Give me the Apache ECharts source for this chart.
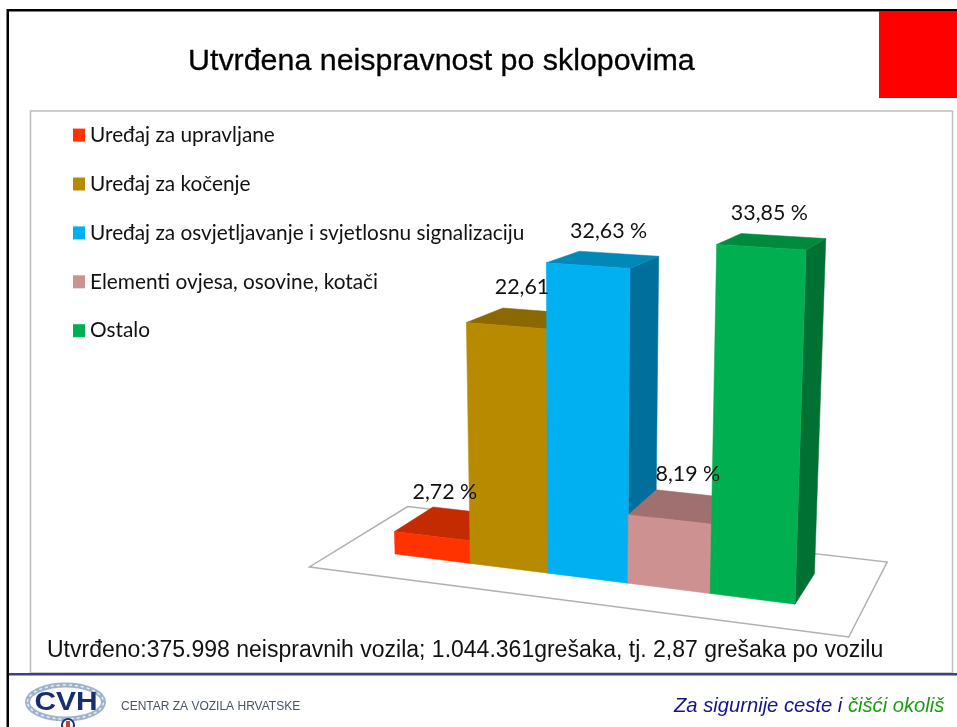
<!DOCTYPE html>
<html><head><meta charset="utf-8">
<style>html,body{margin:0;padding:0;background:#fff}#c{width:957px;height:727px}</style>
<script src="https://cdn.jsdelivr.net/npm/echarts@6/dist/echarts.min.js"></script>
</head><body><div id="c"></div>
<script>
const categories = ['Uređaj za upravljane','Uređaj za kočenje','Uređaj za osvjetljavanje i svjetlosnu signalizaciju','Elementi ovjesa, osovine, kotači','Ostalo'];
// Heights as drawn in the picture; the printed labels are separate text in the source and do not scale exactly with the bars.
const barHeights = [2.4, 24.7, 31.1, 7.0, 33.85];
const valueLabels = ['2,72 %','22,61','32,63 %','8,19 %','33,85 %'];
const frontColors = ['#FF3300','#B88A00','#00B0F0','#CE9191','#00B050'];
const topColors = ['#C42B00','#8C6900','#0088B8','#A07070','#008A3E'];
const sideColors = ['#A32400','#705400','#006F9C','#805858','#007033'];
const labelNudge = [[-6,-31],[-2,-31],[5,-28],[5,-32],[-3,-28]];
const titleText = 'Utvrđena neispravnost po sklopovima';
const footText = 'Utvrđeno:375.998 neispravnih vozila; 1.044.361grešaka, tj. 2,87 grešaka po vozilu';
const orgText = 'CENTAR ZA VOZILA HRVATSKE';

const yMax = 40;
// Perspective camera: vanishing points for category, value and depth directions.
const O = [395,554], Vu = [-4757,-92], Vv = [583,7400], Vd = [1150,50];
const wu = -0.01441, wv = -0.001358, wd = 0.0537;
function project(u,v,d){
  const W = 1 + u*wu + v*wv + d*wd;
  return [
    (O[0] + u*wu*Vu[0] + v*wv*Vv[0] + d*wd*Vd[0]) / W,
    (O[1] + u*wu*Vu[1] + v*wv*Vv[1] + d*wd*Vd[1]) / W
  ];
}
function renderBar(i){
  return function(params, api){
    const cs = params.coordSys;
    const p = api.coord([api.value(0), api.value(1)]);
    const band = api.size([1,0])[0];
    const u0 = (p[0]-band/2-cs.x)/band, u1 = u0+1;
    const v = (cs.y+cs.height-p[1])/cs.height*yMax;
    const poly = (pts,fill)=>({type:'polygon',shape:{points:pts},style:{fill:fill,stroke:fill,lineWidth:0.5}});
    const a=project(u0,v,0), b=project(u1,v,0), c=project(u1,v,1), d=project(u0,v,1);
    const e=project(u0,0,0), f=project(u1,0,0), g=project(u1,0,1);
    const mid=project(u0+0.5,v,0.5);
    return {type:'group',children:[
      poly([b,c,g,f],sideColors[i]),
      poly([a,b,c,d],topColors[i]),
      poly([a,b,f,e],frontColors[i]),
      {type:'text',z2:100,style:{text:valueLabels[i],x:mid[0]+labelNudge[i][0],y:mid[1]+labelNudge[i][1],
        align:'center',verticalAlign:'middle',fill:'#111',font:'21.4px Lato'}}
    ]};
  };
}
const floorU=[-0.73,5.76], floorD=[-0.715,1.68];
const series=[{
  type:'custom',name:'floor',silent:true,coordinateSystem:'cartesian2d',clip:false,
  data:[[0,0]],encode:{x:0,y:1},
  renderItem(){return {type:'polygon',shape:{points:[
    project(floorU[0],0,floorD[0]),project(floorU[1],0,floorD[0]),
    project(floorU[1],0,floorD[1]),project(floorU[0],0,floorD[1])]},
    style:{fill:'#fff',stroke:'#b0b0b0',lineWidth:1.5}};}
}];
categories.forEach((name,i)=>series.push({
  type:'custom',name,coordinateSystem:'cartesian2d',clip:false,
  itemStyle:{color:frontColors[i]},
  data:[[i,barHeights[i]]],encode:{x:0,y:1},renderItem:renderBar(i)
}));

const chart=echarts.init(document.getElementById('c'),null,{renderer:'canvas'});
chart.setOption({
  animation:false,backgroundColor:'#fff',
  title:{text:titleText,left:183,top:42,textStyle:{fontFamily:'Liberation Sans',fontWeight:'normal',fontSize:30.4,color:'#000',textBorderColor:'#000',textBorderWidth:0.3}},
  legend:{data:categories,orient:'vertical',left:68,top:119.6,itemWidth:12,itemHeight:13,itemGap:27.9,icon:'rect',
    selectedMode:false,textStyle:{fontFamily:'Lato',fontSize:20.8,color:'#111'},itemStyle:{borderWidth:0}},
  grid:{left:395,top:200,width:400,height:354,containLabel:false},
  xAxis:{type:'category',data:categories,show:false},
  yAxis:{type:'value',min:0,max:yMax,show:false},
  series,
  graphic:[
    {type:'rect',z:-10,shape:{x:30.5,y:111,width:922,height:562},style:{fill:'#fff',stroke:'#bdbdbd',lineWidth:1.5}},
    {type:'rect',shape:{x:7,y:9,width:950,height:2.5},style:{fill:'#000'}},
    {type:'rect',shape:{x:6.5,y:9,width:2.5,height:718},style:{fill:'#000'}},
    {type:'rect',shape:{x:879,y:11,width:78,height:87},style:{fill:'#FF0000'}},
    {type:'rect',shape:{x:9,y:673,width:948,height:2.5},style:{fill:'#3B3F8F'}},
    {type:'text',style:{text:footText,x:47,y:651,verticalAlign:'middle',fill:'#111',font:'23px "Liberation Sans"'}},
    {type:'text',style:{x:674,y:706,verticalAlign:'middle',text:'{a|Za sigurnije ceste i }{b|čišći okoliš}',
      rich:{a:{fill:'#14148C',font:'italic 20.2px "Liberation Sans"'},b:{fill:'#1A9E10',font:'italic 20.2px "Liberation Sans"'}}}},
    {type:'text',style:{text:orgText,x:121,y:707,verticalAlign:'middle',fill:'#44546A',font:'12px "Liberation Sans"'}},
    {type:'ellipse',shape:{cx:65.5,cy:702,rx:38,ry:17},style:{fill:'#fff',stroke:'#9DB3CC',lineWidth:5}},
    {type:'ellipse',shape:{cx:65.5,cy:702,rx:38,ry:17},style:{fill:'none',stroke:'#E6EDF5',lineWidth:1.5,lineDash:[3,3]}},
    {type:'text',x:66,y:703,scaleX:1.15,style:{text:'CVH',x:0,y:0,align:'center',verticalAlign:'middle',fill:'#14306E',font:'bold 26px "Liberation Sans"'}},
    {type:'circle',shape:{cx:68,cy:725,r:6},style:{fill:'#fff',stroke:'#17397A',lineWidth:2}},
    {type:'rect',shape:{x:66,y:721,width:4,height:6},style:{fill:'#D8392B'}}
  ]
});
</script></body></html>
